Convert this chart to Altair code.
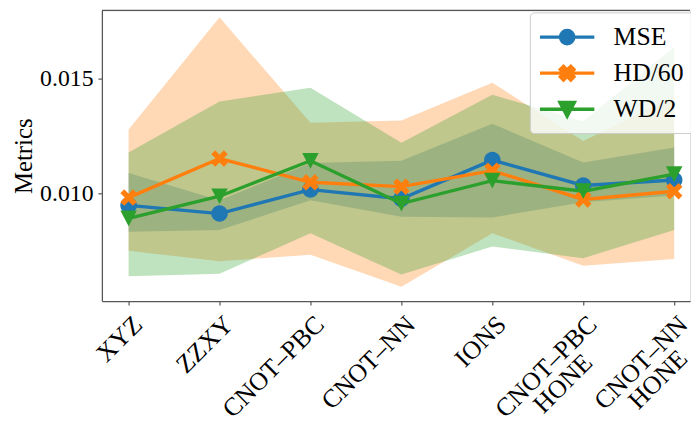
import altair as alt
import pandas as pd

# ---------------- data ----------------
categories = ["XYZ", "ZZXY", "CNOT–PBC", "CNOT–NN", "IONS", "CNOT–PBC HONE", "CNOT–NN HONE"]
tick_lines = [["XYZ"], ["ZZXY"], ["CNOT–PBC"], ["CNOT–NN"], ["IONS"],
              ["CNOT–PBC", "HONE"], ["CNOT–NN", "HONE"]]

series = ["MSE", "HD/60", "WD/2"]
colors = ["#1f77b4", "#ff7f0e", "#2ca02c"]

mse_mean = [0.00947, 0.00911, 0.01016, 0.00976, 0.01145, 0.01034, 0.01058]
mse_low = [0.00832, 0.00839, 0.00969, 0.00897, 0.00894, 0.00961, 0.00990]
mse_high = [0.01089, 0.00969, 0.01132, 0.01142, 0.01304, 0.01135, 0.01200]

hd_mean = [0.00981, 0.01152, 0.01048, 0.01029, 0.01099, 0.00973, 0.01009]
hd_low = [0.00749, 0.00702, 0.00731, 0.00591, 0.00825, 0.00683, 0.00712]
hd_high = [0.01279, 0.01770, 0.01308, 0.01318, 0.01484, 0.01229, 0.01423]

wd_mean = [0.00890, 0.00987, 0.01142, 0.00955, 0.01055, 0.01009, 0.01084]
wd_low = [0.00637, 0.00648, 0.00825, 0.00644, 0.00767, 0.00716, 0.00839]
wd_high = [0.01178, 0.01402, 0.01462, 0.01221, 0.01431, 0.01315, 0.01640]

y_ticks = [0.010, 0.015]

# ---------------- table ----------------
rows = []
for name, m, lo, hi in zip(series,
                           [mse_mean, hd_mean, wd_mean],
                           [mse_low, hd_low, wd_low],
                           [mse_high, hd_high, wd_high]):
    for i, cat in enumerate(categories):
        rows.append({"series": name, "idx": i, "category": cat,
                     "mean": m[i], "low": lo[i], "high": hi[i]})
df = pd.DataFrame(rows)

FONT = "Liberation Serif"
FS = 24
XFS = 26
LFS = 26
FRAME = "#555555"

# marker shapes (unit box -1..1)
circle_p = "M1,0 A1,1 0 1,1 -1,0 A1,1 0 1,1 1,0 Z"
x_p = ("M-0.53,-1 L0,-0.47 L0.53,-1 L1,-0.53 L0.47,0 L1,0.53 L0.53,1 "
       "L0,0.47 L-0.53,1 L-1,0.53 L-0.47,0 L-1,-0.53 Z")
tri_p = "M-1,-0.95 L1,-0.95 L0,0.95 Z"
marker_paths = [circle_p, x_p, tri_p]


def scaled(path, k):
    out = []
    num = ""
    for ch in path + " ":
        if ch in "0123456789.-":
            num += ch
        else:
            if num:
                out.append(f"{float(num) * k:.3f}")
                num = ""
            out.append(ch)
    return "".join(out).strip()


L = 2.075
leg_circle = f"M{-L},0 L{L},0 M0.51,0 A0.51,0.51 0 1,1 -0.51,0 A0.51,0.51 0 1,1 0.51,0 Z"
leg_x = f"M{-L},0 L{L},0 " + scaled(x_p, 0.52)
leg_tri = f"M{-L},0 L{L},0 " + scaled(tri_p, 0.55)
legend_paths = [leg_circle, leg_x, leg_tri]

label_expr = repr(tick_lines).replace("'", '"') + "[datum.value]"

# two-line labels: centred lines, anchored so that line 1 ends at the tick
two_line = "datum.value >= 5"
x_enc = alt.X(
    "idx:Q",
    scale=alt.Scale(domain=[-0.2935, 6.174], nice=False, zero=False),
    axis=alt.Axis(values=list(range(len(categories))), labelExpr=label_expr,
                  labelAngle=-45,
                  labelAlign={"condition": {"test": two_line, "value": "center"}, "value": "right"},
                  labelOffset={"condition": [{"test": "datum.value == 5", "value": -47},
                                             {"test": "datum.value == 6", "value": -43}],
                               "value": 0},
                  labelPadding={"condition": [{"test": "datum.value == 5", "value": 53},
                                              {"test": "datum.value == 6", "value": 49}],
                                "value": 6},
                  labelBaseline="top",
                  labelFontSize=XFS, labelFont=FONT,
                  labelLineHeight=24, labelOverlap=False, labelFlush=False,
                  labelBound=False, labelColor="black", title=None,
                  grid=False, domainColor=FRAME, domainWidth=1.25,
                  tickColor=FRAME, tickSize=4, tickWidth=1.2),
)
y_enc = alt.Y(
    "mean:Q",
    scale=alt.Scale(domain=[0.005285, 0.0180], nice=False, zero=False),
    axis=alt.Axis(values=y_ticks, format=".3f", labelFontSize=FS, labelFont=FONT,
                  labelColor="black", labelPadding=5, title="Metrics",
                  titleFont=FONT, titleFontSize=25, titleFontWeight="normal",
                  titleColor="black", titlePadding=3, grid=False,
                  domainColor=FRAME, domainWidth=1.25, tickColor=FRAME,
                  tickSize=4, tickWidth=1.2),
)
color_scale = alt.Scale(domain=series, range=colors)

base = alt.Chart(df)

bands = base.mark_area(opacity=0.3).encode(
    x=x_enc,
    y=alt.Y("low:Q", scale=alt.Scale(domain=[0.005285, 0.0180], nice=False, zero=False)),
    y2="high:Q",
    color=alt.Color("series:N", scale=color_scale, legend=None),
)

layers = [bands]
for s, mp in zip(series, marker_paths):
    sub = base.transform_filter(alt.datum.series == s)
    layers.append(sub.mark_line(strokeWidth=3.4).encode(
        x=x_enc, y=y_enc,
        color=alt.Color("series:N", scale=color_scale, legend=None)))
    layers.append(sub.mark_point(filled=True, size=279, opacity=1, strokeWidth=0,
                                 shape=mp).encode(
        x=x_enc, y=y_enc,
        color=alt.Color("series:N", scale=color_scale, legend=None)))

leg = alt.Legend(
    title=None, orient="none", legendX=433, legendY=2, direction="vertical",
    padding=10, rowPadding=7.5, symbolSize=702, symbolStrokeWidth=3.4,
    symbolOpacity=1, symbolOffset=12.7, labelOffset=32,
    labelFont=FONT, labelFontSize=LFS, labelColor="black", labelLimit=0,
    fillColor="rgba(255,255,255,0.8)", strokeColor="#cccccc", cornerRadius=4,
)
legend_layer = base.mark_point(filled=True, opacity=0).encode(
    x=x_enc, y=y_enc,
    fill=alt.Fill("series:N", scale=alt.Scale(domain=series, range=colors), legend=leg),
    shape=alt.Shape("series:N", scale=alt.Scale(domain=series, range=legend_paths), legend=leg),
    stroke=alt.Stroke("series:N", scale=alt.Scale(domain=series, range=colors), legend=leg),
)
layers.append(legend_layer)

top_frame = alt.Chart(alt.Data(values=[{}])).mark_rule(color=FRAME, strokeWidth=1.25).encode(
    x=alt.value(0), x2=alt.value(595), y=alt.value(0))
layers.append(top_frame)

chart = alt.layer(*layers).resolve_scale(
    shape="independent", fill="independent", stroke="independent"
).properties(
    width=595, height=294,
    autosize=alt.AutoSizeParams(type="none"),
    padding={"left": 95, "top": 0, "right": 1, "bottom": 125},
).configure_view(stroke=None).configure(font=FONT)

chart.save("out.html", embed_options={"renderer": "svg", "actions": False})
